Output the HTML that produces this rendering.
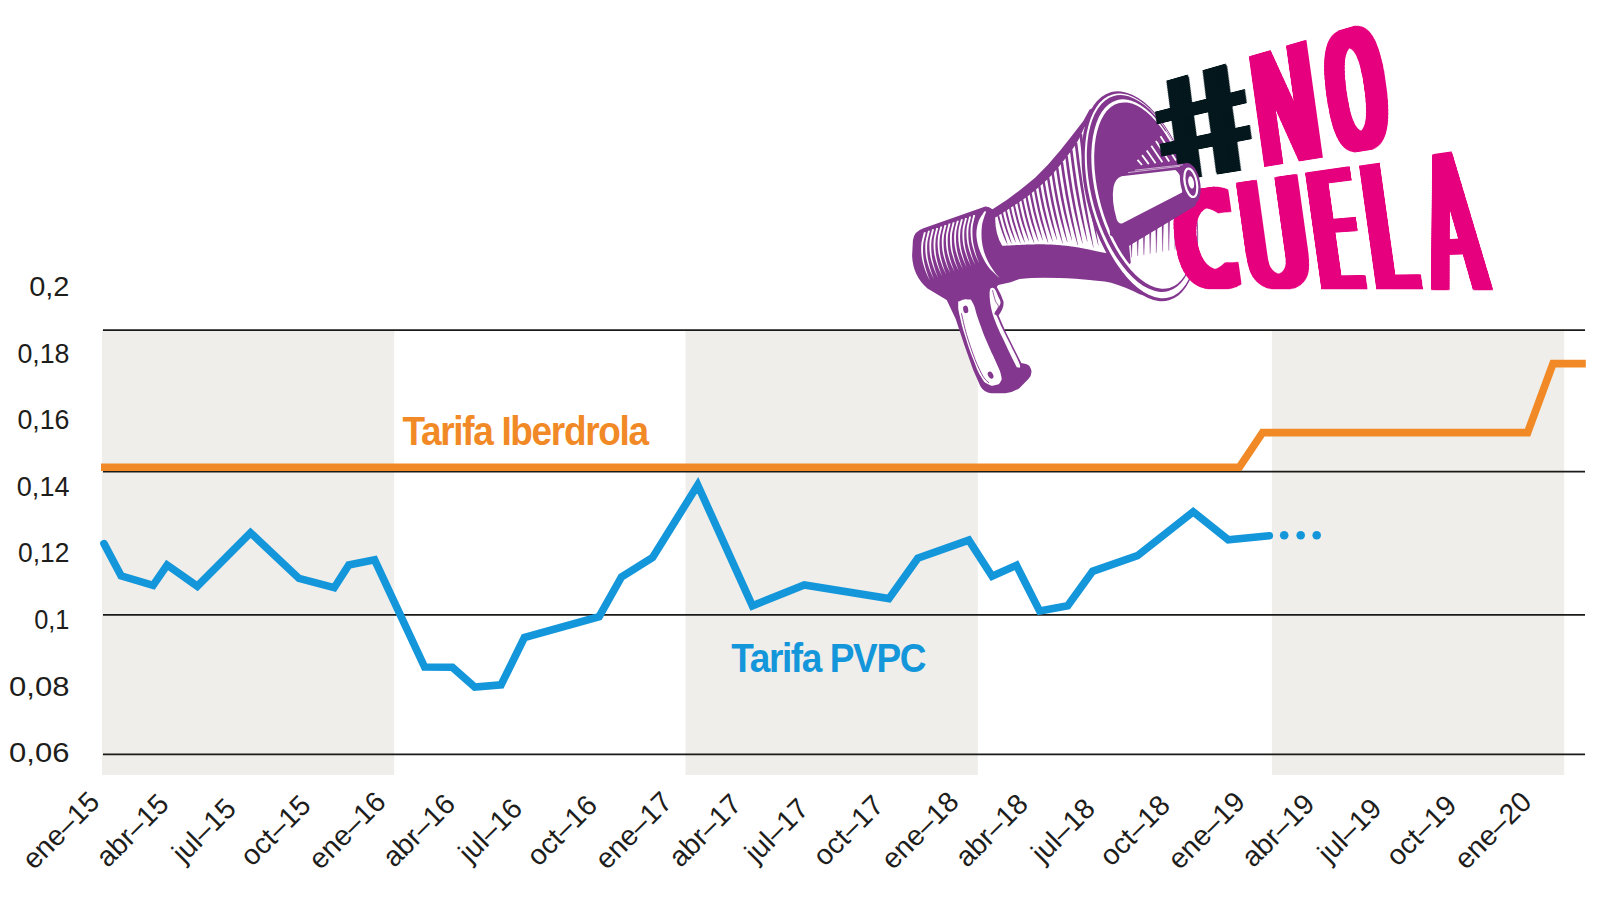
<!DOCTYPE html>
<html lang="es">
<head>
<meta charset="utf-8">
<title>Tarifa Iberdrola vs Tarifa PVPC</title>
<style>
html,body{margin:0;padding:0;background:#fff;}
body{width:1600px;height:900px;position:relative;overflow:hidden;font-family:"Liberation Sans",sans-serif;}
svg{position:absolute;left:0;top:0;display:block;}
svg text{font-family:"Liberation Sans",sans-serif;}
.tag{position:absolute;left:0;top:0;width:0;height:0;}
.tag b{position:absolute;left:0;top:0;display:block;transform-origin:0 0;font:normal 200px/200px "DejaVu Sans",sans-serif;white-space:pre;color:#e6007e;}
.tag b.h{color:#04171d;}
</style>
</head>
<body>
<svg width="1600" height="900" viewBox="0 0 1600 900">
<rect x="102.0" y="330" width="292.2" height="445" fill="#efeeea"/>
<rect x="685.5" y="330" width="292.3" height="445" fill="#efeeea"/>
<rect x="1271.9" y="330" width="292.3" height="445" fill="#efeeea"/>
<line x1="103" x2="1585" y1="330.1" y2="330.1" stroke="#1a1a18" stroke-width="1.8"/>
<line x1="103" x2="1585" y1="471.7" y2="471.7" stroke="#1a1a18" stroke-width="1.8"/>
<line x1="103" x2="1585" y1="614.8" y2="614.8" stroke="#1a1a18" stroke-width="1.8"/>
<line x1="103" x2="1585" y1="754.4" y2="754.4" stroke="#1a1a18" stroke-width="1.8"/>
<polyline fill="none" stroke="#f18a26" stroke-width="7.6" stroke-linejoin="miter" points="101,467.2 1239.4,467.2 1262.6,432.6 1527.6,432.6 1553,363.6 1585.8,363.6"/>
<polyline fill="none" stroke="#1496db" stroke-width="7.6" stroke-linejoin="miter" stroke-linecap="round" points="104,543.6 121.1,575.9 153.1,585.3 167.1,565 197.3,586.2 250.5,532.7 299,578.4 334.2,587.7 348.8,565 374.6,559.8 424.6,667 452.4,667.3 474.8,687 501.1,684.8 524.4,637.5 599.1,616.7 621.5,576.9 652.6,557.6 697.7,485 752.4,605.8 804.3,585 888.9,598.6 917.8,558.2 968.8,540.2 992.1,576.2 1016.4,565.3 1039.7,611.1 1067.7,605.8 1092.6,571.3 1137.5,555.7 1193.2,511.8 1228.2,539.8 1269.3,535.7"/>
<circle cx="1284.2" cy="535.3" r="4.3" fill="#1496db"/>
<circle cx="1300.7" cy="535.3" r="4.3" fill="#1496db"/>
<circle cx="1316.7" cy="535.3" r="4.3" fill="#1496db"/>
<text transform="translate(402.4 444.6) scale(0.93 1)" font-size="39.8" font-weight="700" letter-spacing="-1.43" fill="#f18a26">Tarifa Iberdrola</text>
<text transform="translate(731.3 671.7) scale(0.93 1)" font-size="39.8" font-weight="700" letter-spacing="-1.5" fill="#1496db">Tarifa PVPC</text>
<text x="69.5" y="296" font-size="27.5" text-anchor="end" textLength="40.3" lengthAdjust="spacingAndGlyphs" fill="#1d1d1b">0,2</text>
<text x="69.5" y="362.9" font-size="27.5" text-anchor="end" textLength="52.1" lengthAdjust="spacingAndGlyphs" fill="#1d1d1b">0,18</text>
<text x="69.5" y="428.9" font-size="27.5" text-anchor="end" textLength="52.1" lengthAdjust="spacingAndGlyphs" fill="#1d1d1b">0,16</text>
<text x="69.5" y="495.5" font-size="27.5" text-anchor="end" textLength="52.7" lengthAdjust="spacingAndGlyphs" fill="#1d1d1b">0,14</text>
<text x="69.5" y="562.3" font-size="27.5" text-anchor="end" textLength="51.4" lengthAdjust="spacingAndGlyphs" fill="#1d1d1b">0,12</text>
<text x="69.5" y="628.9" font-size="27.5" text-anchor="end" textLength="35.3" lengthAdjust="spacingAndGlyphs" fill="#1d1d1b">0,1</text>
<text x="69.5" y="695.5" font-size="27.5" text-anchor="end" textLength="60.4" lengthAdjust="spacingAndGlyphs" fill="#1d1d1b">0,08</text>
<text x="69.5" y="761.8" font-size="27.5" text-anchor="end" textLength="60.4" lengthAdjust="spacingAndGlyphs" fill="#1d1d1b">0,06</text>
<text x="60.8" y="830.5" font-size="28.5" text-anchor="middle" dy="9.5" fill="#1d1d1b" transform="rotate(-45 60.8 830.5)">ene–15</text>
<text x="132.4" y="830.5" font-size="28.5" text-anchor="middle" dy="9.5" fill="#1d1d1b" transform="rotate(-45 132.4 830.5)">abr–15</text>
<text x="204.0" y="830.5" font-size="28.5" text-anchor="middle" dy="9.5" fill="#1d1d1b" transform="rotate(-45 204.0 830.5)">jul–15</text>
<text x="275.6" y="830.5" font-size="28.5" text-anchor="middle" dy="9.5" fill="#1d1d1b" transform="rotate(-45 275.6 830.5)">oct–15</text>
<text x="347.2" y="830.5" font-size="28.5" text-anchor="middle" dy="9.5" fill="#1d1d1b" transform="rotate(-45 347.2 830.5)">ene–16</text>
<text x="418.8" y="830.5" font-size="28.5" text-anchor="middle" dy="9.5" fill="#1d1d1b" transform="rotate(-45 418.8 830.5)">abr–16</text>
<text x="490.4" y="830.5" font-size="28.5" text-anchor="middle" dy="9.5" fill="#1d1d1b" transform="rotate(-45 490.4 830.5)">jul–16</text>
<text x="562.0" y="830.5" font-size="28.5" text-anchor="middle" dy="9.5" fill="#1d1d1b" transform="rotate(-45 562.0 830.5)">oct–16</text>
<text x="633.6" y="830.5" font-size="28.5" text-anchor="middle" dy="9.5" fill="#1d1d1b" transform="rotate(-45 633.6 830.5)">ene–17</text>
<text x="705.2" y="830.5" font-size="28.5" text-anchor="middle" dy="9.5" fill="#1d1d1b" transform="rotate(-45 705.2 830.5)">abr–17</text>
<text x="776.8" y="830.5" font-size="28.5" text-anchor="middle" dy="9.5" fill="#1d1d1b" transform="rotate(-45 776.8 830.5)">jul–17</text>
<text x="848.4" y="830.5" font-size="28.5" text-anchor="middle" dy="9.5" fill="#1d1d1b" transform="rotate(-45 848.4 830.5)">oct–17</text>
<text x="920.0" y="830.5" font-size="28.5" text-anchor="middle" dy="9.5" fill="#1d1d1b" transform="rotate(-45 920.0 830.5)">ene–18</text>
<text x="991.6" y="830.5" font-size="28.5" text-anchor="middle" dy="9.5" fill="#1d1d1b" transform="rotate(-45 991.6 830.5)">abr–18</text>
<text x="1063.2" y="830.5" font-size="28.5" text-anchor="middle" dy="9.5" fill="#1d1d1b" transform="rotate(-45 1063.2 830.5)">jul–18</text>
<text x="1134.8" y="830.5" font-size="28.5" text-anchor="middle" dy="9.5" fill="#1d1d1b" transform="rotate(-45 1134.8 830.5)">oct–18</text>
<text x="1206.4" y="830.5" font-size="28.5" text-anchor="middle" dy="9.5" fill="#1d1d1b" transform="rotate(-45 1206.4 830.5)">ene–19</text>
<text x="1278.0" y="830.5" font-size="28.5" text-anchor="middle" dy="9.5" fill="#1d1d1b" transform="rotate(-45 1278.0 830.5)">abr–19</text>
<text x="1349.6" y="830.5" font-size="28.5" text-anchor="middle" dy="9.5" fill="#1d1d1b" transform="rotate(-45 1349.6 830.5)">jul–19</text>
<text x="1421.2" y="830.5" font-size="28.5" text-anchor="middle" dy="9.5" fill="#1d1d1b" transform="rotate(-45 1421.2 830.5)">oct–19</text>
<text x="1492.8" y="830.5" font-size="28.5" text-anchor="middle" dy="9.5" fill="#1d1d1b" transform="rotate(-45 1492.8 830.5)">ene–20</text>
<g id="megaphone">
<path d="M985.3,206.6 L923.5,228.3 Q913.6,231.6 912.9,240.5 L912.1,256 Q913,276 927.5,288.5 L946.7,300 L955.6,318.7 L964.4,345.3 L973.3,370.2 L980.4,386.2 Q984,392.4 991.1,393.3 L1005.3,393.3 Q1013.5,392.4 1019.6,388 L1028.4,379.1 Q1032.6,374 1031.1,369.5 Q1029.8,364.8 1026,364 L1021.3,363.1 L1005.3,331.1 L998.6,315.5 Q1004.6,307 1003.4,301.2 Q1001,294 996.8,287 L998.2,284.9 L1010.7,282.2 L1019.6,278.9 Q1040,276.6 1075.6,278.8 Q1100,280.6 1111.1,282.7 Q1127,287.5 1139.6,294.2 L1164.4,300.4 L1150,200 L1100,105 L1089.6,109.4 L1083.3,121.1 L1071.7,135.9 L1060,150.7 Q1048,165.5 1035.1,177.8 Q1020,190.5 1006.7,200 L992.5,209.3 Q988.5,206.3 985.3,206.6Z" fill="#83378e"/>
<path d="M995.2,217.6 C995.3,217.6 995.5,217.4 995.6,217.3 C995.8,217.2 995.9,217.1 996.1,217.0 C996.2,216.9 996.4,216.8 996.6,216.7 C996.7,216.6 996.9,216.5 997.1,216.4 C997.3,216.2 997.5,216.1 997.7,216.0 C997.9,215.9 998.1,215.7 998.3,215.6 C998.5,215.5 998.7,215.3 998.9,215.2 C999.2,215.1 999.4,214.9 999.6,214.8 C999.8,214.6 1000.1,214.5 1000.3,214.3 C1000.6,214.2 1000.8,214.0 1001.1,213.9 C1001.3,213.7 1001.6,213.6 1001.8,213.4 C1002.1,213.2 1002.3,213.1 1002.6,212.9 C1002.9,212.7 1003.1,212.6 1003.4,212.4 C1003.7,212.2 1003.9,212.0 1004.2,211.9 C1004.5,211.7 1004.8,211.5 1005.1,211.3 C1005.3,211.2 1005.6,211.0 1005.9,210.8 C1006.2,210.6 1006.5,210.4 1006.8,210.2 C1007.1,210.0 1007.4,209.9 1007.7,209.7 C1008.0,209.5 1008.3,209.3 1008.6,209.1 C1008.9,208.9 1009.2,208.7 1009.5,208.5 C1009.8,208.3 1010.1,208.1 1010.4,207.9 C1010.7,207.7 1011.0,207.5 1011.3,207.3 C1011.6,207.1 1011.9,206.9 1012.3,206.7 C1012.6,206.5 1012.9,206.3 1013.2,206.1 C1013.5,205.9 1013.8,205.7 1014.1,205.5 C1014.4,205.3 1014.7,205.1 1015.0,204.9 C1015.3,204.7 1015.6,204.5 1015.9,204.3 C1016.3,204.1 1016.6,203.9 1016.9,203.7 C1017.2,203.5 1017.5,203.3 1017.8,203.1 C1018.1,202.9 1018.4,202.7 1018.7,202.5 C1019.0,202.3 1019.3,202.1 1019.5,201.9 C1019.8,201.7 1020.1,201.5 1020.4,201.3 C1020.7,201.1 1021.0,200.9 1021.3,200.8 C1021.6,200.6 1021.8,200.4 1022.1,200.2 C1022.4,200.0 1022.7,199.8 1022.9,199.6 C1023.2,199.4 1023.5,199.2 1023.7,199.0 C1024.0,198.9 1024.3,198.7 1024.5,198.5 C1024.8,198.3 1025.0,198.1 1025.3,197.9 C1025.5,197.8 1025.8,197.6 1026.0,197.4 C1026.2,197.2 1026.5,197.1 1026.7,196.9 C1026.9,196.7 1027.2,196.6 1027.4,196.4 C1027.6,196.2 1027.8,196.0 1028.1,195.9 C1028.3,195.7 1028.5,195.5 1028.7,195.4 C1029.0,195.2 1029.2,195.0 1029.4,194.9 C1029.6,194.7 1029.8,194.5 1030.1,194.3 C1030.3,194.2 1030.5,194.0 1030.7,193.8 C1030.9,193.7 1031.1,193.5 1031.4,193.3 C1031.6,193.2 1031.8,193.0 1032.0,192.8 C1032.2,192.7 1032.4,192.5 1032.6,192.3 C1032.8,192.1 1033.1,192.0 1033.3,191.8 C1033.5,191.6 1033.7,191.5 1033.9,191.3 C1034.1,191.1 1034.3,191.0 1034.5,190.8 C1034.7,190.6 1034.9,190.4 1035.1,190.3 C1035.3,190.1 1035.5,189.9 1035.7,189.8 C1035.9,189.6 1036.1,189.4 1036.3,189.3 C1036.5,189.1 1036.7,188.9 1036.9,188.8 C1037.1,188.6 1037.3,188.4 1037.5,188.3 C1037.7,188.1 1037.9,187.9 1038.1,187.7 C1038.3,187.6 1038.5,187.4 1038.7,187.2 C1038.9,187.1 1039.1,186.9 1039.3,186.7 C1039.5,186.6 1039.7,186.4 1039.9,186.2 C1040.1,186.1 1040.2,185.9 1040.4,185.7 C1040.6,185.6 1040.8,185.4 1041.0,185.2 C1041.2,185.1 1041.4,184.9 1041.6,184.7 C1041.7,184.6 1041.9,184.4 1042.1,184.2 C1042.3,184.0 1042.5,183.9 1042.7,183.7 C1042.9,183.5 1043.0,183.4 1043.2,183.2 C1043.4,183.0 1043.6,182.9 1043.8,182.7 C1043.9,182.5 1044.1,182.4 1044.3,182.2 C1044.5,182.0 1044.7,181.9 1044.8,181.7 C1045.0,181.5 1045.2,181.4 1045.4,181.2 C1045.6,181.0 1045.7,180.9 1045.9,180.7 C1046.1,180.5 1046.3,180.4 1046.4,180.2 C1046.6,180.0 1046.8,179.9 1047.0,179.7 C1047.1,179.5 1047.3,179.4 1047.5,179.2 C1047.6,179.0 1047.8,178.9 1048.0,178.7 C1048.2,178.5 1048.3,178.4 1048.5,178.2 C1048.7,178.0 1048.8,177.9 1049.0,177.7 C1049.2,177.5 1049.3,177.4 1049.5,177.2 C1049.7,177.0 1049.8,176.9 1050.0,176.7 C1050.2,176.5 1050.3,176.4 1050.5,176.2 C1050.7,176.0 1050.8,175.9 1051.0,175.7 C1051.1,175.5 1051.3,175.4 1051.5,175.2 C1051.6,175.0 1051.8,174.9 1052.0,174.7 C1052.1,174.5 1052.3,174.4 1052.4,174.2 C1052.6,174.0 1052.7,173.8 1052.9,173.7 C1053.1,173.5 1053.2,173.3 1053.4,173.2 C1053.5,173.0 1053.7,172.8 1053.8,172.7 C1054.0,172.5 1054.1,172.3 1054.3,172.2 C1054.4,172.0 1054.6,171.8 1054.7,171.6 C1054.9,171.5 1055.0,171.3 1055.2,171.1 C1055.3,171.0 1055.5,170.8 1055.6,170.6 C1055.8,170.5 1055.9,170.3 1056.1,170.1 C1056.2,169.9 1056.4,169.8 1056.5,169.6 C1056.6,169.4 1056.8,169.3 1056.9,169.1 C1057.1,168.9 1057.2,168.8 1057.4,168.6 C1057.5,168.4 1057.6,168.2 1057.8,168.1 C1057.9,167.9 1058.1,167.7 1058.2,167.6 C1058.3,167.4 1058.5,167.2 1058.6,167.1 C1058.7,166.9 1058.9,166.7 1059.0,166.6 C1059.2,166.4 1059.3,166.2 1059.4,166.1 C1059.6,165.9 1059.7,165.7 1059.8,165.6 C1060.0,165.4 1060.1,165.2 1060.2,165.1 C1060.4,164.9 1060.5,164.7 1060.6,164.6 C1060.8,164.4 1060.9,164.2 1061.0,164.1 C1061.1,163.9 1061.3,163.7 1061.4,163.6 C1061.5,163.4 1061.7,163.2 1061.8,163.1 C1061.9,162.9 1062.0,162.7 1062.2,162.6 C1062.3,162.4 1062.4,162.3 1062.5,162.1 C1062.7,161.9 1062.8,161.8 1062.9,161.6 C1063.0,161.5 1063.2,161.3 1063.3,161.1 C1063.4,161.0 1063.5,160.8 1063.7,160.7 C1063.8,160.5 1063.9,160.3 1064.0,160.2 C1064.1,160.0 1064.3,159.9 1064.4,159.7 C1064.5,159.6 1064.6,159.4 1064.7,159.3 C1064.9,159.1 1065.0,159.0 1065.1,158.8 C1065.2,158.6 1065.3,158.5 1065.5,158.3 C1065.6,158.2 1065.7,158.0 1065.8,157.9 C1065.9,157.7 1066.0,157.6 1066.2,157.4 C1066.3,157.3 1066.4,157.1 1066.5,157.0 C1066.6,156.9 1066.7,156.7 1066.8,156.6 C1067.0,156.4 1067.1,156.3 1067.2,156.1 C1067.3,156.0 1067.4,155.8 1067.5,155.7 C1067.6,155.6 1067.7,155.4 1067.8,155.3 C1067.9,155.1 1068.1,155.0 1068.2,154.9 C1068.3,154.7 1068.4,154.6 1068.5,154.4 C1068.6,154.3 1068.7,154.2 1068.8,154.0 C1068.9,153.9 1069.0,153.8 1069.1,153.6 C1069.2,153.5 1069.3,153.3 1069.4,153.2 C1069.5,153.1 1069.6,152.9 1069.7,152.8 C1069.8,152.7 1069.9,152.5 1070.0,152.4 C1070.1,152.3 1070.2,152.1 1070.3,152.0 C1070.4,151.9 1070.5,151.7 1070.6,151.6 C1070.7,151.5 1070.8,151.4 1070.9,151.2 C1071.0,151.1 1071.1,151.0 1071.2,150.8 C1071.3,150.7 1071.4,150.6 1071.5,150.4 C1071.6,150.3 1071.7,150.2 1071.8,150.1 C1071.9,149.9 1072.0,149.8 1072.0,149.7 C1072.1,149.6 1072.2,149.4 1072.3,149.3 C1072.4,149.2 1072.5,149.1 1072.6,148.9 C1072.7,148.8 1072.8,148.7 1072.9,148.5 C1073.0,148.4 1073.0,148.3 1073.1,148.2 C1073.2,148.0 1073.3,147.9 1073.4,147.8 C1073.5,147.7 1073.6,147.6 1073.7,147.4 C1073.7,147.3 1073.8,147.2 1073.9,147.1 C1074.0,146.9 1074.1,146.8 1074.2,146.7 C1074.2,146.6 1074.3,146.4 1074.4,146.3 C1074.5,146.2 1074.6,146.1 1074.7,145.9 C1074.8,145.8 1074.8,145.7 1074.9,145.6 C1075.0,145.5 1075.1,145.3 1075.2,145.2 C1075.2,145.1 1075.3,145.0 1075.4,144.8 C1075.5,144.7 1075.6,144.6 1075.6,144.5 C1075.7,144.3 1075.8,144.2 1075.9,144.1 C1076.0,144.0 1076.0,143.9 1076.1,143.7 C1076.2,143.6 1076.3,143.5 1076.4,143.4 C1076.4,143.2 1076.5,143.1 1076.6,143.0 C1076.7,142.9 1076.7,142.7 1076.8,142.6 C1076.9,142.5 1077.0,142.4 1077.0,142.2 C1077.1,142.1 1077.2,142.0 1077.3,141.9 C1077.3,141.7 1077.4,141.6 1077.5,141.5 C1077.6,141.4 1077.6,141.2 1077.7,141.1 C1077.8,141.0 1077.9,140.9 1077.9,140.7 C1078.0,140.6 1078.1,140.5 1078.2,140.3 C1078.2,140.2 1078.3,140.1 1078.4,139.9 C1078.5,139.8 1078.5,139.7 1078.6,139.5 C1078.7,139.4 1078.8,139.3 1078.8,139.1 C1078.9,139.0 1079.0,138.9 1079.1,138.7 C1079.1,138.6 1079.2,138.4 1079.3,138.3 C1079.3,138.2 1079.4,138.0 1079.5,137.9 C1079.6,137.7 1079.6,137.6 1079.7,137.5 C1079.8,137.3 1079.8,137.2 1079.9,137.0 C1080.0,136.9 1080.0,136.8 1080.1,136.6 C1080.2,136.5 1080.3,136.3 1080.3,136.2 C1080.4,136.1 1080.5,135.9 1080.5,135.8 C1080.6,135.6 1080.7,135.5 1080.7,135.4 C1080.8,135.2 1080.9,135.1 1080.9,134.9 C1081.0,134.8 1081.1,134.7 1081.1,134.5 C1081.2,134.4 1081.2,134.2 1081.3,134.1 C1081.4,134.0 1081.4,133.8 1081.5,133.7 C1081.6,133.6 1081.6,133.4 1081.7,133.3 C1081.7,133.1 1081.8,133.0 1081.9,132.9 C1081.9,132.7 1082.0,132.6 1082.0,132.5 C1082.1,132.4 1082.2,132.2 1082.2,132.1 C1082.3,132.0 1082.3,131.8 1082.4,131.7 C1082.5,131.6 1082.5,131.5 1082.6,131.3 C1082.6,131.2 1082.7,131.1 1082.7,131.0 C1082.8,130.8 1082.8,130.7 1082.9,130.6 C1082.9,130.5 1083.0,130.4 1083.0,130.3 C1083.1,130.1 1083.1,130.0 1083.2,129.9 C1083.2,129.8 1083.3,129.7 1083.3,129.6 C1083.4,129.5 1083.4,129.4 1083.5,129.3 C1083.5,129.2 1083.6,129.1 1083.6,129.0 C1083.7,128.9 1083.7,128.8 1083.7,128.7 C1083.8,128.6 1083.8,128.5 1083.9,128.4 C1083.9,128.3 1083.9,128.2 1084.0,128.1 C1084.0,128.0 1084.1,127.9 1084.1,127.9 C1084.1,127.8 1084.2,127.7 1084.2,127.6 C1084.2,127.5 1084.3,127.5 1084.3,127.4 C1084.3,127.3 1084.4,127.3 1084.4,127.2 C1084.4,127.1 1084.5,127.0 1084.5,127.0 L1092,125 L1112,254 L1103.0,252.6 L1102.6,252.5 L1102.2,252.4 L1101.7,252.3 L1101.2,252.2 L1100.7,252.1 L1100.2,252.0 L1099.6,251.9 L1099.0,251.7 L1098.4,251.6 L1097.7,251.5 L1097.0,251.3 L1096.3,251.2 L1095.6,251.0 L1094.9,250.8 L1094.1,250.7 L1093.3,250.5 L1092.5,250.3 L1091.7,250.2 L1090.9,250.0 L1090.1,249.8 L1089.3,249.6 L1088.4,249.4 L1087.6,249.3 L1086.7,249.1 L1085.8,248.9 L1085.0,248.7 L1084.1,248.6 L1083.2,248.4 L1082.4,248.2 L1081.5,248.1 L1080.7,247.9 L1079.8,247.8 L1079.0,247.6 L1078.1,247.5 L1077.3,247.3 L1076.5,247.2 L1075.6,247.0 L1074.9,246.9 L1074.1,246.8 L1073.3,246.7 L1072.5,246.6 L1071.8,246.5 L1071.0,246.4 L1070.3,246.3 L1069.5,246.2 L1068.8,246.1 L1068.1,246.0 L1067.3,245.9 L1066.6,245.8 L1065.8,245.8 L1065.1,245.7 L1064.4,245.6 L1063.6,245.5 L1062.9,245.4 L1062.1,245.4 L1061.4,245.3 L1060.6,245.2 L1059.9,245.2 L1059.1,245.1 L1058.4,245.0 L1057.6,245.0 L1056.9,244.9 L1056.1,244.9 L1055.3,244.8 L1054.6,244.8 L1053.8,244.7 L1053.0,244.7 L1052.2,244.6 L1051.4,244.6 L1050.6,244.5 L1049.8,244.5 L1049.0,244.5 L1048.2,244.4 L1047.4,244.4 L1046.5,244.4 L1045.7,244.4 L1044.8,244.3 L1044.0,244.3 L1043.1,244.3 L1042.2,244.3 L1041.3,244.3 L1040.4,244.3 L1039.4,244.3 L1038.4,244.3 L1037.4,244.3 L1036.3,244.3 L1035.2,244.3 L1034.1,244.4 L1033.0,244.4 L1031.9,244.4 L1030.7,244.5 L1029.6,244.5 L1028.4,244.6 L1027.3,244.6 L1026.1,244.6 L1024.9,244.7 L1023.7,244.7 L1022.6,244.8 L1021.4,244.8 L1020.3,244.9 L1019.1,245.0 L1018.0,245.0 L1016.9,245.1 L1015.7,245.1 L1014.7,245.2 L1013.6,245.2 L1012.6,245.3 L1011.5,245.3 L1010.6,245.4 L1009.6,245.4 L1008.7,245.5 L1007.8,245.5 L1006.9,245.6 L1006.1,245.6 L1005.3,245.7 L1004.6,245.7 L1003.9,245.7 L1003.3,245.8 L1002.7,245.8 L1002.2,245.8 Q995,234 995.2,217.6Z" fill="#ffffff"/>
<path d="M997.0,214.6 L998.5,220.6 L1000.2,226.6 L1002.2,232.6 L1003.9,237.1 L1005.6,241.0 L1007.4,244.6 L1007.6,244.6 L1006.6,241.0 L1005.4,237.1 L1003.9,232.6 L1002.1,226.6 L1000.5,220.6 L998.9,214.6Z M1000.9,212.1 L1002.4,218.4 L1004.1,224.7 L1006.1,230.9 L1007.9,235.6 L1009.6,239.7 L1011.4,243.5 L1011.7,243.5 L1010.6,239.7 L1009.4,235.6 L1007.9,230.9 L1006.1,224.7 L1004.4,218.4 L1002.9,212.1Z M1004.8,209.6 L1006.3,216.2 L1008.0,222.7 L1010.1,229.2 L1011.9,234.1 L1013.7,238.3 L1015.5,242.2 L1015.8,242.2 L1014.7,238.3 L1013.4,234.1 L1011.9,229.2 L1010.0,222.7 L1008.4,216.2 L1006.8,209.6Z M1008.8,207.1 L1010.5,214.4 L1012.3,221.8 L1014.6,229.1 L1016.6,234.6 L1018.5,239.3 L1020.5,243.7 L1020.7,243.7 L1019.5,239.3 L1018.1,234.6 L1016.5,229.1 L1014.4,221.8 L1012.5,214.4 L1010.9,207.1Z M1012.8,204.5 L1014.5,212.1 L1016.4,219.7 L1018.6,227.3 L1020.6,233.0 L1022.6,237.9 L1024.6,242.5 L1024.9,242.5 L1023.7,237.9 L1022.2,233.0 L1020.6,227.3 L1018.5,219.7 L1016.6,212.1 L1014.9,204.5Z M1016.9,201.8 L1018.6,209.6 L1020.4,217.5 L1022.7,225.4 L1024.8,231.3 L1026.8,236.4 L1028.8,241.1 L1029.1,241.1 L1027.9,236.4 L1026.4,231.3 L1024.7,225.4 L1022.6,217.5 L1020.7,209.6 L1019.1,201.8Z M1021.0,199.0 L1022.9,207.8 L1024.9,216.6 L1027.4,225.4 L1029.6,232.0 L1031.8,237.7 L1034.0,243.0 L1034.3,243.0 L1032.9,237.7 L1031.3,232.0 L1029.5,225.4 L1027.1,216.6 L1025.1,207.8 L1023.2,199.0Z M1025.2,196.0 L1027.0,205.1 L1029.1,214.2 L1031.6,223.4 L1033.9,230.2 L1036.1,236.2 L1038.3,241.6 L1038.6,241.6 L1037.2,236.2 L1035.6,230.2 L1033.7,223.4 L1031.4,214.2 L1029.3,205.1 L1027.4,196.0Z M1029.4,192.7 L1031.3,202.2 L1033.3,211.7 L1035.9,221.2 L1038.1,228.3 L1040.4,234.5 L1042.6,240.2 L1042.9,240.2 L1041.5,234.5 L1039.9,228.3 L1038.0,221.2 L1035.6,211.7 L1033.6,202.2 L1031.7,192.7Z M1033.7,189.3 L1035.7,200.0 L1038.0,210.7 L1040.7,221.4 L1043.2,229.4 L1045.6,236.4 L1048.0,242.8 L1048.3,242.8 L1046.8,236.4 L1045.0,229.4 L1042.9,221.4 L1040.3,210.7 L1038.1,200.0 L1036.0,189.3Z M1038.0,185.6 L1040.0,196.8 L1042.3,207.9 L1045.1,219.1 L1047.6,227.5 L1050.0,234.7 L1052.5,241.4 L1052.8,241.4 L1051.2,234.7 L1049.4,227.5 L1047.3,219.1 L1044.7,207.9 L1042.4,196.8 L1040.4,185.6Z M1042.4,181.7 L1044.4,193.3 L1046.7,205.0 L1049.5,216.6 L1052.0,225.4 L1054.4,233.0 L1056.9,240.0 L1057.2,240.0 L1055.6,233.0 L1053.8,225.4 L1051.7,216.6 L1049.1,205.0 L1046.8,193.3 L1044.8,181.7Z M1046.8,177.4 L1049.0,190.6 L1051.5,203.8 L1054.5,217.0 L1057.3,226.9 L1059.9,235.5 L1062.6,243.4 L1062.9,243.4 L1061.1,235.5 L1059.1,226.9 L1056.9,217.0 L1054.0,203.8 L1051.5,190.6 L1049.3,177.4Z M1051.3,172.8 L1053.5,186.7 L1056.0,200.5 L1059.0,214.3 L1061.8,224.7 L1064.4,233.7 L1067.1,242.0 L1067.5,242.0 L1065.7,233.7 L1063.7,224.7 L1061.4,214.3 L1058.5,200.5 L1056.0,186.7 L1053.8,172.8Z M1055.8,167.6 L1058.0,182.2 L1060.5,196.7 L1063.5,211.3 L1066.3,222.2 L1069.0,231.6 L1071.8,240.4 L1072.1,240.4 L1070.3,231.6 L1068.3,222.2 L1065.9,211.3 L1063.1,196.7 L1060.6,182.2 L1058.4,167.6Z M1060.4,161.9 L1062.8,178.5 L1065.5,195.1 L1068.9,211.7 L1071.8,224.2 L1074.7,235.0 L1077.6,244.9 L1078.0,244.9 L1076.0,235.0 L1073.8,224.2 L1071.3,211.7 L1068.2,195.1 L1065.5,178.5 L1063.1,161.9Z M1065.1,155.9 L1067.4,173.4 L1070.2,190.9 L1073.5,208.4 L1076.5,221.5 L1079.4,232.9 L1082.4,243.4 L1082.7,243.4 L1080.8,232.9 L1078.5,221.5 L1076.0,208.4 L1072.9,190.9 L1070.2,173.4 L1067.8,155.9Z M1069.8,149.7 L1072.1,168.1 L1074.8,186.4 L1078.2,204.8 L1081.2,218.6 L1084.1,230.5 L1087.1,241.5 L1087.5,241.5 L1085.5,230.5 L1083.3,218.6 L1080.7,204.8 L1077.6,186.4 L1074.9,168.1 L1072.5,149.7Z M1074.5,142.8 L1077.1,163.7 L1080.1,184.7 L1083.7,205.6 L1086.9,221.3 L1090.1,234.9 L1093.3,247.4 L1093.6,247.4 L1091.5,234.9 L1089.0,221.3 L1086.3,205.6 L1082.9,184.7 L1079.9,163.7 L1077.3,142.8Z M1079.3,134.1 L1081.9,156.3 L1084.8,178.6 L1088.5,200.8 L1091.7,217.5 L1094.9,232.0 L1098.1,245.3 L1098.5,245.3 L1096.3,232.0 L1093.9,217.5 L1091.1,200.8 L1087.7,178.6 L1084.8,156.3 L1082.2,134.1Z" fill="#83378e"/>
<path d="M984.6,211.2 C983.5,213.0 979.6,217.9 978.3,222.2 C976.9,226.4 976.1,231.7 976.5,236.7 C976.9,241.7 978.4,247.2 980.4,252.2 C982.4,257.2 985.0,262.3 988.3,266.7 C991.6,271.1 998.0,276.4 1000.0,278.4 L1000.0,278.4 C999.0,277.2 996.2,274.5 993.9,271.1 C991.6,267.7 988.3,262.6 986.3,257.8 C984.3,253.0 982.7,247.6 982.0,242.2 C981.3,236.8 981.3,230.7 982.0,225.6 C982.7,220.5 985.5,213.9 986.2,211.6Z" fill="#ffffff"/>
<path d="M923.9,232.2 C923.5,234.3 921.6,240.4 921.3,244.7 C921.0,249.0 921.2,253.8 921.9,258.2 C922.6,262.6 924.3,267.4 925.6,271.2 C926.9,274.9 929.2,279.1 929.9,280.7 L929.9,280.7 C929.3,279.1 927.6,274.9 926.5,271.2 C925.4,267.4 924.0,262.6 923.5,258.2 C923.0,253.8 922.8,249.0 923.2,244.7 C923.6,240.4 925.4,234.3 925.8,232.2Z M928.0,230.8 C927.6,232.9 925.8,238.9 925.4,243.3 C925.1,247.6 925.3,252.4 926.0,256.8 C926.7,261.2 928.4,266.0 929.7,269.8 C931.1,273.5 933.3,277.7 934.0,279.3 L934.0,279.3 C933.5,277.7 931.7,273.5 930.6,269.8 C929.6,266.0 928.2,261.2 927.6,256.8 C927.1,252.4 926.9,247.6 927.3,243.3 C927.7,238.9 929.5,232.9 929.9,230.8Z M932.1,229.3 C931.7,231.4 929.9,237.5 929.5,241.8 C929.2,246.2 929.4,250.9 930.1,255.3 C930.9,259.8 932.5,264.6 933.8,268.3 C935.2,272.1 937.4,276.3 938.1,277.8 L938.1,277.8 C937.6,276.3 935.8,272.1 934.7,268.3 C933.7,264.6 932.3,259.8 931.7,255.3 C931.2,250.9 931.1,246.2 931.4,241.8 C931.8,237.5 933.6,231.4 934.0,229.3Z M936.3,227.9 C935.8,230.0 934.0,236.1 933.7,240.4 C933.3,244.7 933.5,249.5 934.3,253.9 C935.0,258.3 936.6,263.2 938.0,266.9 C939.3,270.7 941.5,274.8 942.3,276.4 L942.3,276.4 C941.7,274.8 939.9,270.7 938.9,266.9 C937.8,263.2 936.4,258.3 935.9,253.9 C935.3,249.5 935.2,244.7 935.6,240.4 C935.9,236.1 937.7,230.0 938.2,227.9Z M940.4,226.5 C939.9,228.6 938.1,234.6 937.8,239.0 C937.4,243.3 937.7,248.1 938.4,252.5 C939.1,256.9 940.7,261.7 942.1,265.5 C943.4,269.2 945.7,273.4 946.4,275.0 L946.4,275.0 C945.8,273.4 944.0,269.2 943.0,265.5 C941.9,261.7 940.5,256.9 940.0,252.5 C939.4,248.1 939.3,243.3 939.7,239.0 C940.1,234.6 941.8,228.6 942.3,226.5Z M944.5,225.0 C944.1,227.1 942.2,233.2 941.9,237.5 C941.6,241.9 941.8,246.6 942.5,251.0 C943.2,255.5 944.9,260.3 946.2,264.0 C947.5,267.8 949.8,272.0 950.5,273.5 L950.5,273.5 C949.9,272.0 948.2,267.8 947.1,264.0 C946.0,260.3 944.7,255.5 944.1,251.0 C943.5,246.6 943.4,241.9 943.8,237.5 C944.2,233.2 946.0,227.1 946.4,225.0Z M948.6,223.6 C948.2,225.7 946.4,231.8 946.0,236.1 C945.7,240.5 945.9,245.2 946.6,249.6 C947.3,254.0 949.0,258.9 950.3,262.6 C951.7,266.4 953.9,270.5 954.6,272.1 L954.6,272.1 C954.1,270.5 952.3,266.4 951.2,262.6 C950.2,258.9 948.8,254.0 948.2,249.6 C947.7,245.2 947.5,240.5 947.9,236.1 C948.3,231.8 950.1,225.7 950.5,223.6Z M952.7,222.2 C952.3,224.3 950.5,230.4 950.1,234.7 C949.8,239.0 950.0,243.8 950.7,248.2 C951.5,252.6 953.1,257.4 954.4,261.2 C955.8,264.9 958.0,269.1 958.7,270.7 L958.7,270.7 C958.2,269.1 956.4,264.9 955.3,261.2 C954.3,257.4 952.9,252.6 952.3,248.2 C951.8,243.8 951.7,239.0 952.0,234.7 C952.4,230.4 954.2,224.3 954.6,222.2Z M956.9,220.8 C956.4,222.8 954.6,228.9 954.3,233.3 C953.9,237.6 954.1,242.3 954.9,246.8 C955.6,251.2 957.2,256.0 958.6,259.8 C959.9,263.5 962.1,267.7 962.9,269.3 L962.9,269.3 C962.3,267.7 960.5,263.5 959.5,259.8 C958.4,256.0 957.0,251.2 956.5,246.8 C955.9,242.3 955.8,237.6 956.2,233.3 C956.5,228.9 958.3,222.8 958.8,220.8Z M961.0,219.3 C960.5,221.4 958.7,227.5 958.4,231.8 C958.0,236.2 958.3,240.9 959.0,245.3 C959.7,249.7 961.3,254.6 962.7,258.3 C964.0,262.1 966.3,266.2 967.0,267.8 L967.0,267.8 C966.4,266.2 964.6,262.1 963.6,258.3 C962.5,254.6 961.1,249.7 960.6,245.3 C960.0,240.9 959.9,236.2 960.3,231.8 C960.7,227.5 962.4,221.4 962.9,219.3Z M965.1,217.9 C964.7,220.0 962.8,226.1 962.5,230.4 C962.2,234.7 962.4,239.5 963.1,243.9 C963.8,248.3 965.5,253.1 966.8,256.9 C968.1,260.6 970.4,264.8 971.1,266.4 L971.1,266.4 C970.5,264.8 968.8,260.6 967.7,256.9 C966.6,253.1 965.2,248.3 964.7,243.9 C964.2,239.5 964.0,234.7 964.4,230.4 C964.8,226.1 966.6,220.0 967.0,217.9Z M969.2,216.5 C968.8,218.6 967.0,224.6 966.6,229.0 C966.3,233.3 966.5,238.1 967.2,242.5 C967.9,246.9 969.6,251.7 970.9,255.5 C972.3,259.2 974.5,263.4 975.2,265.0 L975.2,265.0 C974.7,263.4 972.9,259.2 971.8,255.5 C970.8,251.7 969.4,246.9 968.8,242.5 C968.3,238.1 968.1,233.3 968.5,229.0 C968.9,224.6 970.7,218.6 971.1,216.5Z M973.3,215.0 C972.9,217.1 971.1,223.2 970.7,227.5 C970.4,231.9 970.6,236.6 971.3,241.0 C972.1,245.5 973.7,250.3 975.0,254.0 C976.4,257.8 978.6,262.0 979.3,263.5 L979.3,263.5 C978.8,262.0 977.0,257.8 975.9,254.0 C974.9,250.3 973.5,245.5 972.9,241.0 C972.4,236.6 972.3,231.9 972.6,227.5 C973.0,223.2 974.8,217.1 975.2,215.0Z" fill="#ffffff"/>
<ellipse cx="1139.83" cy="196.21" rx="108.01" ry="52.47" transform="rotate(74.33 1139.83 196.21)" fill="#83378e" />
<ellipse cx="1141.03" cy="195.87" rx="105.31" ry="50.42" transform="rotate(74.33 1141.03 195.87)" fill="#ffffff" />
<ellipse cx="1141.15" cy="193.50" rx="101.26" ry="48.77" transform="rotate(74.33 1141.15 193.50)" fill="#83378e" />
<ellipse cx="1143.07" cy="194.06" rx="97.51" ry="46.27" transform="rotate(74.33 1143.07 194.06)" fill="#ffffff" />
<clipPath id="intclip"><path d="M1060,60 L1260,60 L1260,166.4 L1196.4,204.9 L1129.1,245.6 L1130.8,262.8 L1128,266 L1060,266Z"/></clipPath>
<g clip-path="url(#intclip)"><ellipse cx="1144.01" cy="194.26" rx="94.56" ry="44.42" transform="rotate(74.33 1144.01 194.26)" fill="#83378e" /></g>
<path d="M1130.8,243.6 L1132.3,242.7 L1131.5,257.3Z M1137.0,239.9 L1138.5,239.0 L1137.7,255.9Z M1143.2,236.1 L1144.8,235.2 L1143.9,255.1Z M1149.5,232.4 L1151.0,231.5 L1150.1,253.7Z M1155.7,228.6 L1157.2,227.7 L1156.3,252.8Z M1162.0,224.8 L1163.5,223.9 L1162.6,251.5Z M1168.2,221.0 L1169.7,220.1 L1168.8,250.6Z M1174.3,217.3 L1175.8,216.4 L1175.0,249.5Z M1180.5,213.5 L1182.0,212.6 L1181.2,248.5Z" fill="#83378e" stroke="#83378e" stroke-width="0.3"/>
<path d="M1137.5,159.8 L1142.0,165.0 M1142.1,155.1 L1148.8,164.1 M1146.7,150.4 L1155.6,163.2 M1151.3,145.7 L1162.4,162.3 M1155.9,141.0 L1169.2,161.4 M1160.5,136.3 L1176.0,160.5 M1165.1,131.6 L1182.8,159.6 M1169.7,126.9 L1189.6,158.7 M1174.3,122.2 L1196.4,157.8" stroke="#ffffff" stroke-width="1.8" fill="none"/>
<path d="M958.2,304.4 C958.3,300.2 957.7,302.4 960.2,301.1 C962.7,299.7 964.2,298.9 967.6,299.5 C971.1,300.0 970.0,297.6 973.0,303.2 C975.9,308.8 974.8,309.7 978.7,320.4 C982.6,331.2 982.8,332.2 987.6,343.6 C992.3,354.9 992.8,354.6 996.4,363.1 C1000.0,371.6 1000.0,370.5 1001.1,375.6 C1002.1,380.6 1001.8,379.4 1000.4,382.0 C998.9,384.5 998.7,384.3 995.6,385.0 C992.4,385.6 992.4,386.5 988.6,384.4 C984.8,382.4 985.4,384.0 981.3,377.3 C977.3,370.7 977.6,370.5 973.3,359.6 C969.1,348.7 968.9,347.8 965.3,336.4 C961.8,325.1 961.9,325.4 960.0,316.9 C958.1,308.4 958.2,308.7 958.2,304.4Z" fill="#ffffff"/>
<path d="M961.4,313.3 C962.3,316.9 964.3,327.0 966.6,334.7 C968.9,342.4 972.4,352.6 975.1,359.6 C977.9,366.5 980.8,372.6 983.1,376.4 C985.4,380.3 988.0,381.8 989.0,382.8" fill="none" stroke="#83378e" stroke-width="0.9"/>
<ellipse cx="965.7" cy="309.4" rx="2.5" ry="3.8" transform="rotate(-12 965.7 309.4)" fill="#83378e"/>
<ellipse cx="990.6" cy="375.2" rx="2.5" ry="3.8" transform="rotate(-28 990.6 375.2)" fill="#83378e"/>
<path d="M989.9,290.2 C989.2,293.5 989.7,300.4 990.8,306.2 C991.8,312.1 993.2,316.0 995.6,322.2 C997.9,328.4 1000.0,332.3 1003.6,340.0 C1007.1,347.7 1012.6,359.0 1015.1,364.0 C1017.7,369.0 1016.5,367.0 1017.4,367.2 C1018.3,367.4 1021.1,368.9 1019.9,364.9 C1018.7,360.9 1013.8,351.9 1010.7,345.3 C1007.5,338.8 1005.2,334.7 1002.7,329.3 C1000.1,324.0 998.3,318.9 996.8,316.0 C995.3,313.1 994.0,315.6 994.7,313.3 C995.3,311.1 999.7,306.7 1000.4,303.6 C1001.0,300.5 999.3,299.2 998.2,296.4 C997.1,293.7 995.8,289.6 994.3,288.4 C992.8,287.3 990.5,287.0 989.9,290.2Z" fill="#ffffff"/>
<path d="M992.5,290.2 C993.0,292.0 994.4,298.2 995.4,300.9 C996.4,303.6 998.5,304.5 998.4,306.6 C998.3,308.7 995.4,312.2 994.8,313.3" fill="none" stroke="#83378e" stroke-width="0.8"/>
</g>
</svg>
<div class="tag"><span><b class="h" style="transform:matrix3d(-0.338297,-0.282044,0,-0.000910284,-0.0390018,0.559482,0,-0.000259131,0,0,1,0,1108.08,81.6914,0,1);text-shadow:0px -2px 0 #04171d,2px -2px 0 #04171d,4px -2px 0 #04171d,6px -2px 0 #04171d,8px -2px 0 #04171d,10px -2px 0 #04171d,11px -2px 0 #04171d,2px 0px 0 #04171d,4px 0px 0 #04171d,6px 0px 0 #04171d,8px 0px 0 #04171d,10px 0px 0 #04171d,11px 0px 0 #04171d,0px 2px 0 #04171d,2px 2px 0 #04171d,4px 2px 0 #04171d,6px 2px 0 #04171d,8px 2px 0 #04171d,10px 2px 0 #04171d,11px 2px 0 #04171d;clip-path:polygon(52.18px 23.34px,159.24px 23.34px,123.24px 170.00px,16.84px 170.00px);">#</b><b style="transform:matrix3d(-0.164125,-0.136834,0,-0.000441624,0.105201,0.751439,0,-5.92534e-18,0,0,1,0,1238.74,41.2684,0,1);text-shadow:2px 0px 0 #e6007e,4px 0px 0 #e6007e,6px 0px 0 #e6007e,8px 0px 0 #e6007e,10px 0px 0 #e6007e,12px 0px 0 #e6007e,14px 0px 0 #e6007e,16px 0px 0 #e6007e,18px 0px 0 #e6007e,20px 0px 0 #e6007e,22px 0px 0 #e6007e,24px 0px 0 #e6007e,26px 0px 0 #e6007e,28px 0px 0 #e6007e;">N</b><b style="transform:matrix3d(-0.182043,-0.151772,0,-0.000489838,0.104572,0.74694,0,-1.96842e-17,0,0,1,0,1311.13,25.1169,0,1);font-family:'DejaVu Sans Mono',monospace;text-shadow:0px -4px 0 #e6007e,2px -4px 0 #e6007e,4px -4px 0 #e6007e,6px -4px 0 #e6007e,8px -4px 0 #e6007e,10px -4px 0 #e6007e,12px -4px 0 #e6007e,14px -4px 0 #e6007e,16px -4px 0 #e6007e,18px -4px 0 #e6007e,20px -4px 0 #e6007e,21px -4px 0 #e6007e,2px 0px 0 #e6007e,4px 0px 0 #e6007e,6px 0px 0 #e6007e,8px 0px 0 #e6007e,10px 0px 0 #e6007e,12px 0px 0 #e6007e,14px 0px 0 #e6007e,16px 0px 0 #e6007e,18px 0px 0 #e6007e,20px 0px 0 #e6007e,21px 0px 0 #e6007e,0px 4px 0 #e6007e,2px 4px 0 #e6007e,4px 4px 0 #e6007e,6px 4px 0 #e6007e,8px 4px 0 #e6007e,10px 4px 0 #e6007e,12px 4px 0 #e6007e,14px 4px 0 #e6007e,16px 4px 0 #e6007e,18px 4px 0 #e6007e,20px 4px 0 #e6007e,21px 4px 0 #e6007e;">O</b></span> <span><b style="transform:matrix3d(-0.3488,-0.203194,0,-0.000702363,0.0799788,0.571277,0,-2.37468e-18,0,0,1,0,1160.86,186.47,0,1);font-family:'DejaVu Sans Mono',monospace;text-shadow:0px -8px 0 #e6007e,2px -8px 0 #e6007e,4px -8px 0 #e6007e,6px -8px 0 #e6007e,8px -8px 0 #e6007e,10px -8px 0 #e6007e,12px -8px 0 #e6007e,14px -8px 0 #e6007e,16px -8px 0 #e6007e,18px -8px 0 #e6007e,20px -8px 0 #e6007e,22px -8px 0 #e6007e,23px -8px 0 #e6007e,0px -5px 0 #e6007e,2px -5px 0 #e6007e,4px -5px 0 #e6007e,6px -5px 0 #e6007e,8px -5px 0 #e6007e,10px -5px 0 #e6007e,12px -5px 0 #e6007e,14px -5px 0 #e6007e,16px -5px 0 #e6007e,18px -5px 0 #e6007e,20px -5px 0 #e6007e,22px -5px 0 #e6007e,23px -5px 0 #e6007e,0px -2px 0 #e6007e,2px -2px 0 #e6007e,4px -2px 0 #e6007e,6px -2px 0 #e6007e,8px -2px 0 #e6007e,10px -2px 0 #e6007e,12px -2px 0 #e6007e,14px -2px 0 #e6007e,16px -2px 0 #e6007e,18px -2px 0 #e6007e,20px -2px 0 #e6007e,22px -2px 0 #e6007e,23px -2px 0 #e6007e,0px 1px 0 #e6007e,2px 1px 0 #e6007e,4px 1px 0 #e6007e,6px 1px 0 #e6007e,8px 1px 0 #e6007e,10px 1px 0 #e6007e,12px 1px 0 #e6007e,14px 1px 0 #e6007e,16px 1px 0 #e6007e,18px 1px 0 #e6007e,20px 1px 0 #e6007e,22px 1px 0 #e6007e,23px 1px 0 #e6007e,0px 4px 0 #e6007e,2px 4px 0 #e6007e,4px 4px 0 #e6007e,6px 4px 0 #e6007e,8px 4px 0 #e6007e,10px 4px 0 #e6007e,12px 4px 0 #e6007e,14px 4px 0 #e6007e,16px 4px 0 #e6007e,18px 4px 0 #e6007e,20px 4px 0 #e6007e,22px 4px 0 #e6007e,23px 4px 0 #e6007e,0px 7px 0 #e6007e,2px 7px 0 #e6007e,4px 7px 0 #e6007e,6px 7px 0 #e6007e,8px 7px 0 #e6007e,10px 7px 0 #e6007e,12px 7px 0 #e6007e,14px 7px 0 #e6007e,16px 7px 0 #e6007e,18px 7px 0 #e6007e,20px 7px 0 #e6007e,22px 7px 0 #e6007e,23px 7px 0 #e6007e,0px 8px 0 #e6007e,2px 8px 0 #e6007e,4px 8px 0 #e6007e,6px 8px 0 #e6007e,8px 8px 0 #e6007e,10px 8px 0 #e6007e,12px 8px 0 #e6007e,14px 8px 0 #e6007e,16px 8px 0 #e6007e,18px 8px 0 #e6007e,20px 8px 0 #e6007e,22px 8px 0 #e6007e,23px 8px 0 #e6007e;">C</b><b style="transform:matrix3d(-0.338161,-0.196996,0,-0.000680939,0.0966957,0.690684,0,3.10182e-18,0,0,1,0,1226.59,169.121,0,1);font-family:'DejaVu Sans Mono',monospace;text-shadow:0px -2px 0 #e6007e,2px -2px 0 #e6007e,4px -2px 0 #e6007e,6px -2px 0 #e6007e,8px -2px 0 #e6007e,10px -2px 0 #e6007e,12px -2px 0 #e6007e,14px -2px 0 #e6007e,16px -2px 0 #e6007e,18px -2px 0 #e6007e,20px -2px 0 #e6007e,2px 0px 0 #e6007e,4px 0px 0 #e6007e,6px 0px 0 #e6007e,8px 0px 0 #e6007e,10px 0px 0 #e6007e,12px 0px 0 #e6007e,14px 0px 0 #e6007e,16px 0px 0 #e6007e,18px 0px 0 #e6007e,20px 0px 0 #e6007e,0px 2px 0 #e6007e,2px 2px 0 #e6007e,4px 2px 0 #e6007e,6px 2px 0 #e6007e,8px 2px 0 #e6007e,10px 2px 0 #e6007e,12px 2px 0 #e6007e,14px 2px 0 #e6007e,16px 2px 0 #e6007e,18px 2px 0 #e6007e,20px 2px 0 #e6007e;">U</b><b style="transform:matrix3d(-0.179485,-0.104559,0,-0.000361421,0.11114,0.793856,0,-4.52378e-17,0,0,1,0,1296.66,155.138,0,1);text-shadow:2px 0px 0 #e6007e,4px 0px 0 #e6007e,6px 0px 0 #e6007e,8px 0px 0 #e6007e,10px 0px 0 #e6007e,12px 0px 0 #e6007e,14px 0px 0 #e6007e,16px 0px 0 #e6007e,18px 0px 0 #e6007e,20px 0px 0 #e6007e,22px 0px 0 #e6007e,24px 0px 0 #e6007e,26px 0px 0 #e6007e,28px 0px 0 #e6007e,30px 0px 0 #e6007e,32px 0px 0 #e6007e,34px 0px 0 #e6007e,36px 0px 0 #e6007e,38px 0px 0 #e6007e,40px 0px 0 #e6007e,42px 0px 0 #e6007e,44px 0px 0 #e6007e,46px 0px 0 #e6007e,48px 0px 0 #e6007e,50px 0px 0 #e6007e,52px 0px 0 #e6007e;">E</b><b style="transform:matrix3d(-0.187437,-0.109192,0,-0.000377434,0.117701,0.840722,0,-2.75143e-18,0,0,1,0,1349.87,147.218,0,1);text-shadow:2px 0px 0 #e6007e,4px 0px 0 #e6007e,6px 0px 0 #e6007e,8px 0px 0 #e6007e,10px 0px 0 #e6007e,12px 0px 0 #e6007e,14px 0px 0 #e6007e,16px 0px 0 #e6007e,18px 0px 0 #e6007e,20px 0px 0 #e6007e,22px 0px 0 #e6007e,24px 0px 0 #e6007e,26px 0px 0 #e6007e,28px 0px 0 #e6007e,30px 0px 0 #e6007e,32px 0px 0 #e6007e,34px 0px 0 #e6007e,36px 0px 0 #e6007e,38px 0px 0 #e6007e,40px 0px 0 #e6007e,42px 0px 0 #e6007e;">L</b><b style="transform:matrix3d(-0.188867,-0.110025,0,-0.000380314,0.126715,0.905108,0,-2.42901e-17,0,0,1,0,1408.77,136.337,0,1);text-shadow:2px 0px 0 #e6007e,4px 0px 0 #e6007e,6px 0px 0 #e6007e,8px 0px 0 #e6007e,10px 0px 0 #e6007e,12px 0px 0 #e6007e,14px 0px 0 #e6007e,16px 0px 0 #e6007e,18px 0px 0 #e6007e,20px 0px 0 #e6007e,22px 0px 0 #e6007e,24px 0px 0 #e6007e,26px 0px 0 #e6007e,28px 0px 0 #e6007e,30px 0px 0 #e6007e,31px 0px 0 #e6007e;">A</b></span></div>
<svg width="1600" height="900" viewBox="0 0 1600 900">
<g id="stem">
<path d="M1130.0,170.0 L1186.0,163.3 L1197.0,175.0 L1197.5,198.0 L1195.6,205.7 L1127.3,246.7 L1110.0,235.0 L1108.0,200.0 L1118.0,176.0Z" fill="#83378e"/>
<path d="M1121.5,176.3 L1175.3,170 Q1179.5,173 1182.3,181 Q1184,188 1182,192.5 L1122.5,223.2 Q1118.5,224.5 1116.6,219 Q1111.2,200 1113.5,187 Q1115.2,178.5 1121.5,176.3Z" fill="#ffffff"/>
<path d="M1128,172.6 L1180,166.3 M1135,170.2 L1183,164.8" stroke="#ffffff" stroke-width="0.6" fill="none"/>
<ellipse cx="1190.3" cy="183.2" rx="9.8" ry="20.6" transform="rotate(-11 1190.3 183.2)" fill="#83378e"/>
<ellipse cx="1190.8999999999999" cy="182.89999999999998" rx="6.0" ry="14.4" transform="rotate(-11 1190.3 183.2)" fill="none" stroke="#ffffff" stroke-width="2.2"/>
<ellipse cx="1191.3" cy="182.6" rx="2.8" ry="6.3" transform="rotate(-11 1190.3 183.2)" fill="#ffffff"/>
</g>
</svg>
</body>
</html>
